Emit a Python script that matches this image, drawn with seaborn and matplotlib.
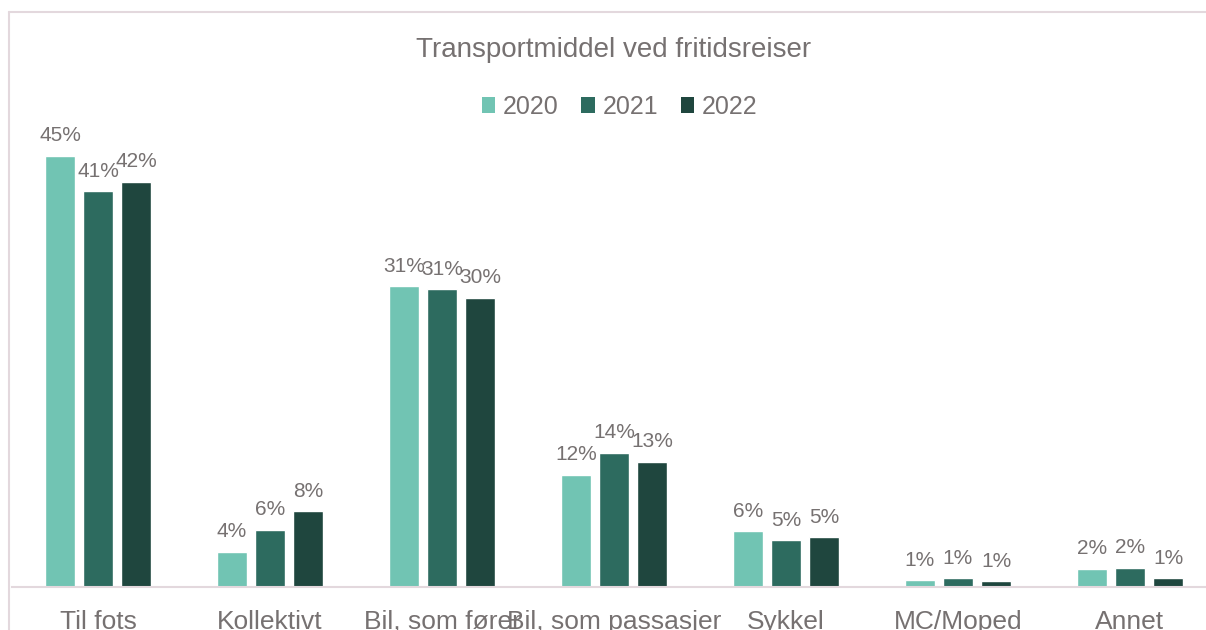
import matplotlib
matplotlib.use("Agg")
import matplotlib.pyplot as plt
from matplotlib.lines import Line2D
from matplotlib.patches import Patch
import pandas as pd
import seaborn as sns

# Data: share of leisure trips by mode of transport (%)
categories = ["Til fots", "Kollektivt", "Bil, som fører", "Bil, som passasjer",
              "Sykkel", "MC/Moped", "Annet"]
years = ["2020", "2021", "2022"]
share_2020 = [45.0, 3.7, 31.4, 11.7, 5.8, 0.7, 1.9]
share_2021 = [41.3, 6.0, 31.1, 14.0, 4.9, 0.9, 2.0]
share_2022 = [42.3, 7.9, 30.2, 13.1, 5.2, 0.6, 0.9]
colors = ["#71C4B3", "#2D6B5F", "#1F463E"]
title = "Transportmiddel ved fritidsreiser"

df = pd.DataFrame({
    "Transportmiddel": categories * 3,
    "Andel": share_2020 + share_2021 + share_2022,
    "År": [y for y in years for _ in categories],
})

sns.set_theme(style="white")
plt.rcParams["font.family"] = ["Liberation Sans", "DejaVu Sans"]
gray = "#767171"
line_col = "#E3D8DD"

fig = plt.figure(figsize=(12.06, 6.3), dpi=100)
ax = fig.add_axes([12 / 1206, 43 / 630, 1204 / 1206, 479 / 630])

sns.barplot(data=df, x="Transportmiddel", y="Andel", hue="År",
            order=categories, hue_order=years, palette=colors,
            saturation=1, width=0.663, gap=0.21, errorbar=None,
            legend=False, ax=ax)

for container in ax.containers:
    ax.bar_label(container,
                 labels=[f"{b.get_height():.0f}%" for b in container],
                 padding=7.5, fontsize=15, color=gray)

ax.set_xlim(-0.5, 6.5)
ax.set_ylim(0, 50)
ax.set_xlabel("")
ax.set_ylabel("")
ax.set_yticks([])
ax.tick_params(axis="x", length=0, pad=16.5, labelsize=19, labelcolor=gray)
for side in ["top", "right", "left"]:
    ax.spines[side].set_visible(False)
ax.spines["bottom"].set_color(line_col)
ax.spines["bottom"].set_linewidth(1.5)

# Chart frame (top and left edges)
fig.add_artist(Line2D([9 / 1206, 1], [1 - 12 / 630, 1 - 12 / 630],
                      color=line_col, lw=1.5, transform=fig.transFigure))
fig.add_artist(Line2D([9 / 1206, 9 / 1206], [0, 1 - 12 / 630],
                      color=line_col, lw=1.5, transform=fig.transFigure))

fig.text(614 / 1206, 1 - 57 / 630, title, ha="center", va="baseline",
         fontsize=20, color=gray)

handles = [Patch(facecolor=c, edgecolor="none") for c in colors]
fig.legend(handles, years, loc="center",
           bbox_to_anchor=(619.5 / 1206, 1 - 107 / 630), ncol=3,
           frameon=False, fontsize=18, handlelength=0.55, handleheight=0.6,
           handletextpad=0.3, columnspacing=0.9, labelcolor=gray,
           borderpad=0, borderaxespad=0)

fig.savefig("out.png", dpi=100)
